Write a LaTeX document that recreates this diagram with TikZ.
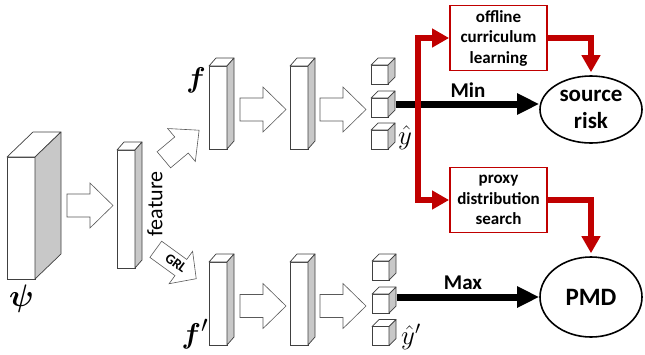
\documentclass[tikz,border=0pt]{standalone}
\usepackage{amsmath,bm}
\usepackage{fontspec}
\setmainfont{Carlito}
\usetikzlibrary{arrows.meta,calc,shapes.geometric}
\definecolor{myred}{RGB}{192,0,0}
\definecolor{sidegray}{RGB}{200,200,200}
\newcommand\prism[7]{%
  \node[blk,minimum width=#4pt,minimum height=#5pt] (#1) at (#2,#3) {};
  \draw[face] (#1.north west) -- ++(#6,-#7) -- ($(#1.north east)+(#6,-#7)$) -- (#1.north east) -- cycle;
  \draw[side] (#1.north east) -- ++(#6,-#7) -- ($(#1.south east)+(#6,-#7)$) -- (#1.south east) -- cycle;
}
\newcommand\hollow[7]{%
  \begin{scope}[shift={(#1,#2)},rotate=#3]
  \draw[harrow] ({-#4/2},{-#5}) -- ({#4/2-#7},{-#5}) -- ({#4/2-#7},{-#6}) -- ({#4/2},0)
     -- ({#4/2-#7},{#6}) -- ({#4/2-#7},{#5}) -- ({-#4/2},{#5}) -- cycle;
  \end{scope}
}
\begin{document}
\begin{tikzpicture}[x=1pt,y=-1pt,
  edge/.style={draw=black!75,line width=0.7pt,line join=round},
  face/.style={edge,fill=white},
  side/.style={edge,fill=sidegray},
  blk/.style={draw=black!75,line width=0.7pt,fill=white,inner sep=0pt,outer sep=0pt},
  harrow/.style={draw=black!65,line width=0.6pt,fill=white,line join=miter},
  redbox/.style={draw=myred,line width=1.8pt,inner sep=0pt,minimum width=97pt,minimum height=65pt,align=center,font=\bfseries\fontsize{17}{20.5}\selectfont},
  redline/.style={draw=myred,line width=5.5pt,-{Triangle[length=17pt,width=18pt]}},
  blackline/.style={draw=black,line width=7pt,-{Triangle[length=22pt,width=20pt]}},
  target/.style={ellipse,draw=black,line width=1.6pt,inner sep=0pt,minimum width=102pt,align=center,font=\bfseries\fontsize{23}{27}\selectfont},
  lbl/.style={font=\bfseries\fontsize{21}{21}\selectfont},
  mlbl/.style={inner sep=0pt,font=\Huge}
]
\useasboundingbox (0,0) rectangle (645,354);
% input
\prism{psi}{21}{218}{28}{122}{26}{25}
\node[mlbl,scale=1.25] (psil) at (21.5,299) {$\bm{\psi}$};
\hollow{90}{205.5}{0}{46}{11.5}{22.5}{23}
\prism{feat}{126}{209}{18}{118}{7}{8}
\node[rotate=90,font=\fontsize{22}{22}\selectfont] (featl) at (155,204) {feature};
\hollow{181.5}{145}{40}{46}{10.5}{21.5}{23}
\hollow{176}{264}{-36}{50}{10}{20}{19}
\node[rotate=-36,inner sep=0pt,font=\bfseries\fontsize{14}{14}\selectfont] (grl) at (176,263) {GRL};
% top branch
\node[mlbl,scale=1.15] (fl) at (196,80) {$\bm{f}$};
\prism{t1}{218}{107.5}{18}{83}{7}{8}
\hollow{263}{109.5}{0}{46}{11.5}{22.5}{23}
\prism{t2}{299}{107.5}{18}{83}{7}{8}
\hollow{343}{109.5}{0}{46}{11.5}{22.5}{23}
\prism{tc1}{379.5}{74.5}{17}{19}{7}{7}
\prism{tc2}{379.5}{107.5}{17}{19}{7}{7}
\prism{tc3}{379.5}{139.5}{17}{19}{7}{7}
\node[inner sep=0pt,font=\huge,scale=1.3] (yh) at (405,138) {$\hat{y}$};
% bottom branch
\node[mlbl,scale=1.15] (fpl) at (195,334) {$\bm{f}'$};
\prism{b1}{218}{303.5}{18}{83}{7}{8}
\hollow{263}{306}{0}{46}{11.5}{22.5}{23}
\prism{b2}{299}{303.5}{18}{83}{7}{8}
\hollow{343}{306}{0}{46}{11.5}{22.5}{23}
\prism{bc1}{380.5}{270.5}{17}{19}{7}{7}
\prism{bc2}{380.5}{303.5}{17}{19}{7}{7}
\prism{bc3}{380.5}{336}{17}{19}{7}{7}
\node[inner sep=0pt,font=\huge,scale=1.3] (yph) at (411,337) {$\hat{y}'$};
% right part
\node[redbox] (off) at (498.5,38) {offline\\curriculum\\learning};
\node[redbox] (prx) at (498.5,200) {proxy\\distribution\\search};
\node[target,minimum height=67pt] (src) at (591,109.5) {source\\risk};
\node[target,minimum height=80pt,font=\bfseries\fontsize{25}{27}\selectfont] (pmd) at (591,297) {PMD};
\coordinate (ts) at ($(tc2.east)+(8,-3.5)$);
\coordinate (bs) at ($(bc2.east)+(8,-6.5)$);
\draw[blackline] (ts) -- (ts -| src.west);
\draw[blackline] (bs) -- (bs -| pmd.west);
\node[lbl] (minl) at (468,90) {Min};
\node[lbl] (maxl) at (463,283) {Max};
\coordinate (split) at (418,104);
\draw[redline] (split) |- (off.west);
\draw[redline] (split) |- (prx.west);
\draw[redline,shorten >=3pt] (off.east) -| (src.north);
\draw[redline,shorten >=3pt] (prx.east) -| (pmd.north);
\end{tikzpicture}
\end{document}
